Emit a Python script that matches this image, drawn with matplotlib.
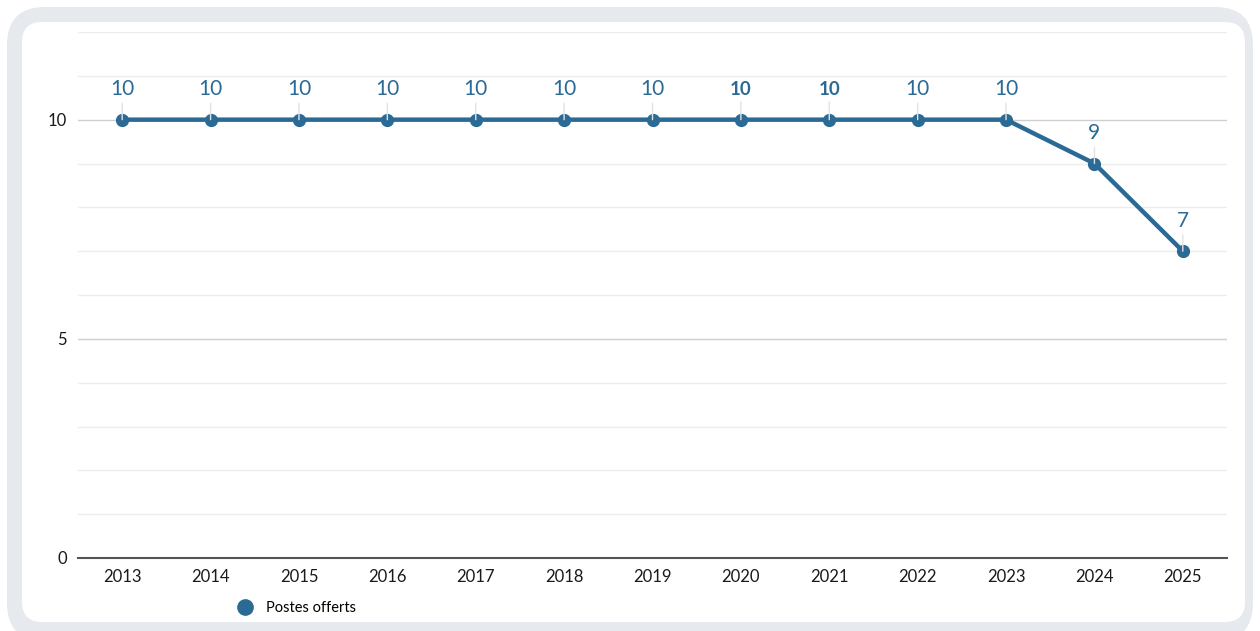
import matplotlib
matplotlib.use("Agg")
import matplotlib.pyplot as plt
from matplotlib.patches import FancyBboxPatch
from matplotlib.lines import Line2D

years = [2013, 2014, 2015, 2016, 2017, 2018, 2019, 2020, 2021, 2022, 2023, 2024, 2025]
postes = [10, 10, 10, 10, 10, 10, 10, 10, 10, 10, 10, 9, 7]
bold_labels = [2020, 2021]
series_name = "Postes offerts"

plt.rcParams['font.family'] = ['Lato', 'DejaVu Sans']

W, H = 1260, 631
fig = plt.figure(figsize=(W / 100, H / 100), dpi=100)
fig.patch.set_facecolor('white')

# outer grey frame and inner white card
outer = FancyBboxPatch((7 / W, -10 / H), (1246) / W, (631 - 7 + 10) / H,
                       boxstyle="round,pad=0,rounding_size=0.03",
                       transform=fig.transFigure, facecolor='#e6e9ee',
                       edgecolor='none', mutation_aspect=W / H, zorder=-10)
inner = FancyBboxPatch((22 / W, (631 - 622) / H), (1245 - 22) / W, (622 - 22) / H,
                       boxstyle="round,pad=0,rounding_size=0.016",
                       transform=fig.transFigure, facecolor='white',
                       edgecolor='none', mutation_aspect=W / H, zorder=-9)
fig.patches.extend([outer, inner])

ax = fig.add_axes([78 / W, 73 / H, (1227 - 78) / W, (558 - 32) / H])
ax.set_facecolor('none')
ax.set_zorder(1)

color = '#2a6a94'
x = list(range(len(years)))
ax.plot(x, postes, color=color, lw=3.2, marker='o', markersize=8.5, zorder=5,
        solid_joinstyle='round')

for xi, yr, v in zip(x, years, postes):
    bold = yr in bold_labels
    ax.annotate(str(v), xy=(xi, v), xytext=(0, 22), textcoords='offset points',
                ha='center', va='center', fontsize=13.5 if bold else 15,
                color=color, fontweight='bold' if bold else 'normal',
                arrowprops=dict(arrowstyle='-', color='#e2e2e2', lw=1,
                                shrinkA=1, shrinkB=0), zorder=6)

ax.set_xlim(-0.5, len(years) - 0.5)
ax.set_ylim(0, 12)
ax.set_xticks(x)
ax.set_xticklabels([str(y) for y in years])
ax.set_yticks([0, 5, 10])
ax.set_yticks(range(1, 13), minor=True)
ax.grid(which='minor', axis='y', color='#ececec', lw=1)
ax.grid(which='major', axis='y', color='#cfcfcf', lw=1)
ax.grid(which='major', axis='x', visible=False)
ax.set_axisbelow(True)
ax.tick_params(axis='both', which='both', length=0)
ax.tick_params(axis='x', pad=8, labelsize=12, labelcolor='#1a1a1a')
ax.tick_params(axis='y', pad=8, labelsize=12, labelcolor='#1a1a1a')
for s in ['top', 'right', 'left']:
    ax.spines[s].set_visible(False)
ax.spines['bottom'].set_color('#555555')
ax.spines['bottom'].set_linewidth(1.5)
ax.spines['bottom'].set_zorder(4)

handle = Line2D([], [], marker='o', ls='', color=color, markersize=11)
fig.legend(handles=[handle], labels=[series_name], loc='center left',
           bbox_to_anchor=(238 / W, 1 - 608 / H), frameon=False,
           borderaxespad=0, borderpad=0, handletextpad=0.9, handlelength=1.0,
           prop={'size': 10.5})

fig.savefig('out.png', dpi=100, facecolor='white')
